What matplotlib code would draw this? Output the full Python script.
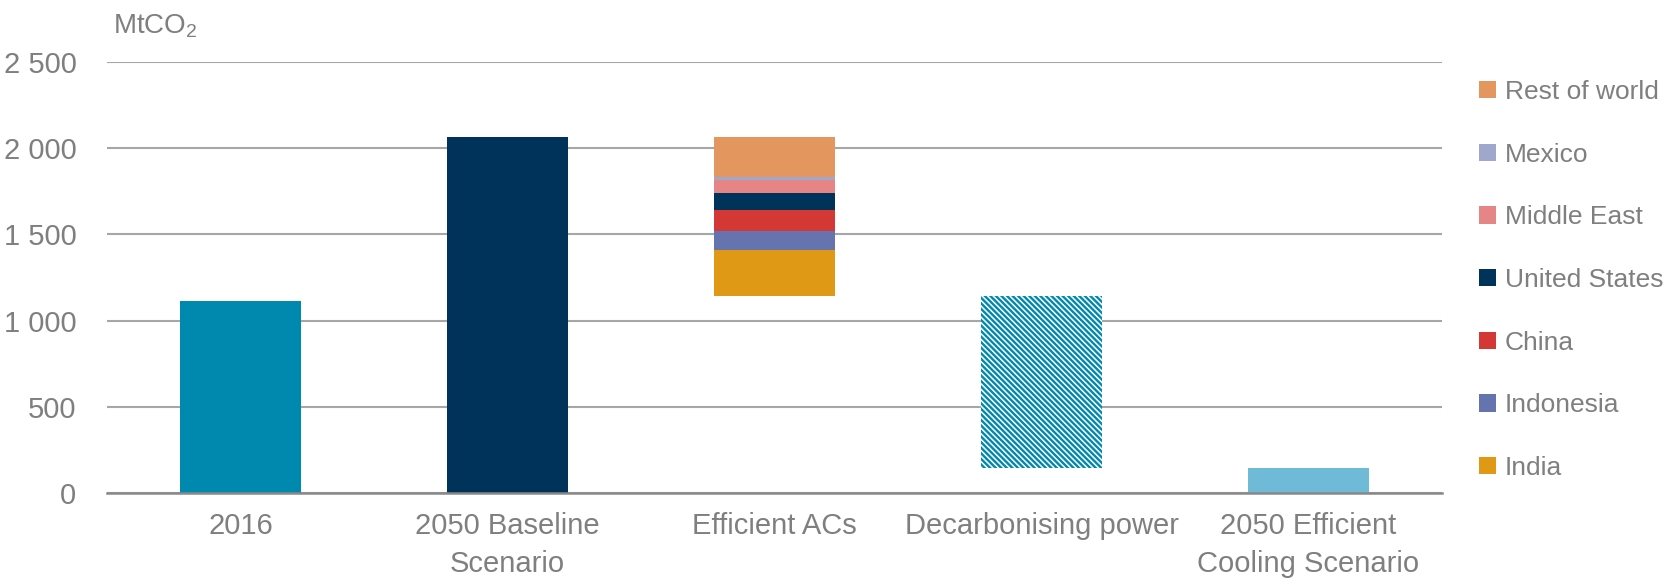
import matplotlib
matplotlib.use("Agg")
import matplotlib.pyplot as plt
import numpy as np

# ── Data (MtCO2) ──────────────────────────────────────────────────────────────
categories = ["2016", "2050 Baseline\nScenario", "Efficient ACs",
              "Decarbonising power", "2050 Efficient\nCooling Scenario"]
emissions_2016 = 1115
baseline_2050 = 2065
efficient_2050 = 145

regions = ["India", "Indonesia", "China", "United States",
           "Middle East", "Mexico", "Rest of world"]
ac_savings = [268, 109, 121, 99, 75, 16, 234]
region_colors = ["#E09914", "#6574AF", "#D43835", "#003359",
                 "#E68585", "#9FA8CC", "#E4965F"]

decarb_saving = baseline_2050 - sum(ac_savings) - efficient_2050

# ── Style ─────────────────────────────────────────────────────────────────────
plt.rcParams["font.family"] = ["Liberation Sans", "DejaVu Sans"]
plt.rcParams["mathtext.fontset"] = "custom"
plt.rcParams["mathtext.rm"] = "Liberation Sans"
plt.rcParams["hatch.linewidth"] = 1.7
txt = "#7F7F7F"

fig = plt.figure(figsize=(16.75, 5.86), dpi=100)
ax = fig.add_axes([0.0639, 0.1587, 0.7970, 0.7355])

x = np.arange(len(categories))
w = 0.455

ax.bar(x[0], emissions_2016, w, color="#0089AE", zorder=3)
ax.bar(x[1], baseline_2050, w, color="#003359", zorder=3)

# Efficient ACs: floating stack hanging down from the baseline total
bottom = baseline_2050 - sum(ac_savings)
handles = []
for name, val, col in zip(regions, ac_savings, region_colors):
    b = ax.bar(x[2], val, w, bottom=bottom, color=col, label=name, zorder=3)
    handles.append(b)
    bottom += val

ax.bar(x[3], decarb_saving, w, bottom=efficient_2050, facecolor="white",
       edgecolor="#0089AE", hatch="\\" * 6, linewidth=0, zorder=3)
ax.bar(x[4], efficient_2050, w, color="#6FBAD7", zorder=3)

# ── Axes ──────────────────────────────────────────────────────────────────────
ax.set_xlim(-0.5, len(categories) - 0.5)
ax.set_ylim(0, 2500)
ax.set_yticks(np.arange(0, 2501, 500))
ax.set_yticklabels([f"{v:,}".replace(",", " ") for v in range(0, 2501, 500)])
ax.set_xticks(x)
ax.set_xticklabels(categories, linespacing=1.45)
ax.tick_params(axis="y", length=0, pad=22, labelsize=21, labelcolor=txt)
ax.tick_params(axis="x", length=0, pad=14, labelsize=21, labelcolor=txt)

ax.yaxis.grid(True, color="#A6A6A6", lw=1.5, zorder=0)
ax.set_axisbelow(True)
for s in ["top", "right", "left"]:
    ax.spines[s].set_visible(False)
ax.spines["bottom"].set_color("#898989")
ax.spines["bottom"].set_linewidth(1.8)
ax.spines["bottom"].set_zorder(4)

fig.text(0.0675, 0.955, "MtCO$_2$", fontsize=20, color=txt, va="center", ha="left")

leg = ax.legend(handles[::-1], regions[::-1], loc="upper left",
                bbox_to_anchor=(1.02, 0.983), frameon=False, fontsize=19,
                labelcolor=txt, handlelength=0.63, handleheight=0.63,
                handletextpad=0.35, labelspacing=1.465, borderaxespad=0)

fig.savefig("out.png", dpi=100)
